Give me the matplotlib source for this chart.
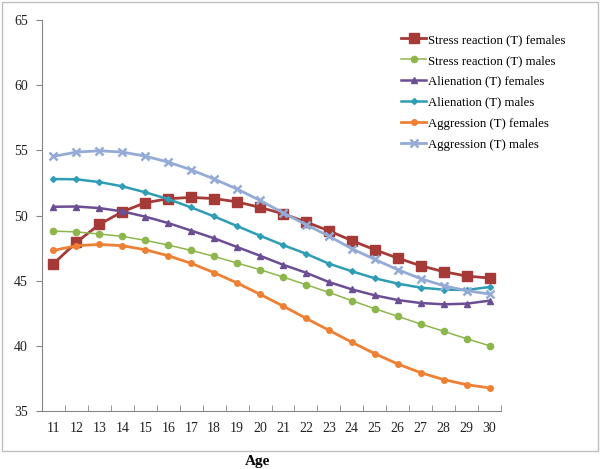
import matplotlib
matplotlib.use("Agg")
import matplotlib.pyplot as plt
from matplotlib.patches import Rectangle

# Data
ages = list(range(11, 31))

stress_f = [46.30, 47.94, 49.32, 50.29, 50.98, 51.29, 51.39, 51.30, 51.05, 50.62,
            50.14, 49.50, 48.83, 48.07, 47.37, 46.73, 46.14, 45.69, 45.35, 45.20]
stress_m = [48.80, 48.74, 48.58, 48.40, 48.09, 47.73, 47.32, 46.86, 46.35, 45.84,
            45.28, 44.69, 44.10, 43.46, 42.84, 42.26, 41.67, 41.11, 40.54, 40.00]
alien_f = [50.67, 50.69, 50.57, 50.32, 49.91, 49.42, 48.84, 48.25, 47.58, 46.91,
           46.22, 45.61, 44.89, 44.33, 43.87, 43.51, 43.28, 43.18, 43.23, 43.46]
alien_m = [52.80, 52.78, 52.57, 52.24, 51.78, 51.26, 50.62, 49.93, 49.19, 48.45,
           47.73, 47.07, 46.30, 45.72, 45.18, 44.77, 44.46, 44.31, 44.28, 44.51]
aggr_f = [47.32, 47.68, 47.78, 47.68, 47.37, 46.91, 46.33, 45.61, 44.82, 43.95,
          43.05, 42.11, 41.19, 40.27, 39.39, 38.60, 37.93, 37.40, 37.01, 36.76]
aggr_m = [54.54, 54.87, 54.97, 54.87, 54.56, 54.10, 53.51, 52.80, 52.03, 51.16,
          50.21, 49.30, 48.42, 47.45, 46.63, 45.84, 45.15, 44.61, 44.23, 43.97]

labels = ["Stress reaction (T) females", "Stress reaction (T) males",
          "Alienation (T) females", "Alienation (T) males",
          "Aggression (T) females", "Aggression (T) males"]

plt.rcParams["font.family"] = ["Liberation Serif", "DejaVu Serif"]

fig = plt.figure(figsize=(6.0, 4.69), dpi=100)
ax = fig.add_axes([0.07, 0.124, 0.765, 0.833])

# outer chart frame
fig.patches.append(Rectangle((2 / 600, 1 - 451 / 469), 596 / 600, 449 / 469,
                             transform=fig.transFigure, fill=False,
                             edgecolor="#BFBFBF", linewidth=1.0))

styles = [
    dict(color="#A53A37", marker="s", markersize=6.5, linewidth=2.0),
    dict(color="#8DB64C", marker="o", markersize=4.5, linewidth=1.1),
    dict(color="#6B4E94", marker="^", markersize=4.5, linewidth=1.8),
    dict(color="#2E9DB5", marker="D", markersize=3.0, linewidth=1.8),
    dict(color="#EE8034", marker="o", markersize=4.0, linewidth=2.0),
    dict(color="#93ABD6", marker="x", markersize=5.5, markeredgewidth=1.8, linewidth=2.0),
]
series = [stress_f, stress_m, alien_f, alien_m, aggr_f, aggr_m]

for vals, lab, st in zip(series, labels, styles):
    ax.plot(ages, vals, label=lab, **st)

ax.set_xlim(10.5, 30.5)
ax.set_ylim(35, 65)
ax.set_yticks([35, 40, 45, 50, 55, 60, 65])
ax.set_xticks(ages)
ax.set_xticks([a - 0.5 for a in ages] + [30.5], minor=True)
ax.tick_params(axis="x", which="major", length=0, labelsize=10, pad=8, colors="#222222")
ax.tick_params(axis="x", which="minor", length=4, color="#868686", direction="in")
ax.tick_params(axis="y", length=4, color="#868686", labelsize=10, pad=6, labelcolor="#222222")

for side in ["top", "right"]:
    ax.spines[side].set_visible(False)
for side in ["left", "bottom"]:
    ax.spines[side].set_color("#868686")

fig.text(0.43, 1 - 461 / 469, "Age", ha="center", va="center",
         fontsize=11, fontweight="bold")

ax.legend(loc="upper left", bbox_to_anchor=(0.772, 0.978), frameon=False,
          fontsize=9.2, handlelength=1.9, handletextpad=0.15, labelspacing=0.7,
          borderaxespad=0)

fig.savefig("out.png", dpi=100)
